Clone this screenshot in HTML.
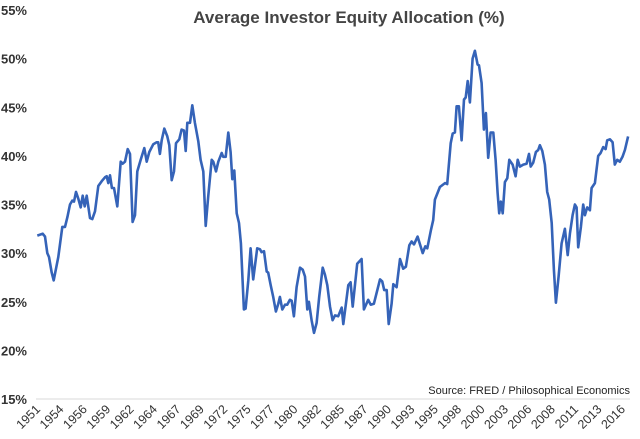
<!DOCTYPE html>
<html><head><meta charset="utf-8"><style>
html,body{margin:0;padding:0;background:#fff;}
svg{display:block;font-family:"Liberation Sans",Arial,sans-serif;}
</style></head><body>
<svg id="chart" width="640" height="439" viewBox="0 0 640 439">
<text x="349" y="23" text-anchor="middle" font-size="17" font-weight="bold" fill="#444">Average Investor Equity Allocation (%)</text>
<g id="yaxis"></g>
<g id="xaxis"></g>
<line x1="36" y1="399" x2="630" y2="399" stroke="#d8d8d8" stroke-width="1"/>
<text x="630" y="394" text-anchor="end" font-size="11" fill="#222">Source: FRED / Philosophical Economics</text>
<path id="line" fill="none" stroke="#3563b8" stroke-width="2.6" stroke-linejoin="round"/>
</svg>
<script>
const years = [1951.67,1952.27,1952.52,1952.78,1952.97,1953.27,1953.49,1954.0,1954.44,1954.74,1955.0,1955.29,1955.54,1955.73,1955.95,1956.21,1956.47,1956.69,1956.92,1957.14,1957.31,1957.5,1957.76,1958.05,1958.42,1958.8,1959.16,1959.35,1959.53,1959.71,1959.93,1960.16,1960.52,1960.9,1961.12,1961.37,1961.67,1961.93,1962.22,1962.48,1962.73,1963.11,1963.51,1963.77,1964.06,1964.5,1964.88,1965.05,1965.24,1965.43,1965.72,1966.05,1966.27,1966.54,1966.79,1967.01,1967.38,1967.64,1967.9,1968.09,1968.26,1968.56,1968.82,1969.11,1969.48,1969.74,1970.03,1970.3,1970.58,1970.96,1971.14,1971.44,1971.69,1972.07,1972.24,1972.51,1972.8,1973.06,1973.24,1973.46,1973.73,1973.98,1974.2,1974.53,1974.72,1975.01,1975.27,1975.56,1976.0,1976.3,1976.49,1976.75,1977.05,1977.22,1977.49,1977.77,1978.07,1978.33,1978.51,1978.77,1979.07,1979.32,1979.62,1979.81,1980.06,1980.36,1980.73,1981.03,1981.28,1981.54,1981.72,1982.02,1982.28,1982.57,1982.86,1983.24,1983.49,1983.75,1984.05,1984.34,1984.6,1984.96,1985.34,1985.52,1986.07,1986.33,1986.56,1987.06,1987.55,1987.8,1988.28,1988.55,1988.91,1989.58,1989.83,1990.05,1990.32,1990.54,1990.87,1991.05,1991.42,1991.79,1992.15,1992.45,1992.82,1993.08,1993.34,1993.74,1994.3,1994.59,1994.81,1995.22,1995.47,1995.66,1996.21,1996.77,1997.02,1997.4,1997.62,1997.87,1998.06,1998.31,1998.61,1998.87,1999.06,1999.28,1999.53,1999.83,2000.08,2000.38,2000.53,2000.82,2001.08,2001.3,2001.55,2001.82,2002.11,2002.37,2002.59,2002.77,2002.96,2003.15,2003.4,2003.66,2003.88,2004.25,2004.58,2004.81,2005.06,2005.43,2005.8,2006.06,2006.25,2006.53,2006.83,2007.08,2007.27,2007.53,2007.82,2008.08,2008.3,2008.57,2008.82,2009.04,2009.34,2009.67,2010.04,2010.34,2010.59,2010.89,2011.14,2011.33,2011.51,2011.81,2012.06,2012.25,2012.5,2012.8,2012.99,2013.35,2013.72,2013.98,2014.27,2014.54,2014.71,2015.01,2015.31,2015.56,2015.82,2016.11,2016.41,2016.67,2017.03];
const values = [31.8,32.0,31.7,30.0,29.6,28.0,27.2,29.6,32.7,32.7,33.7,35.0,35.4,35.3,36.3,35.6,34.7,35.9,34.8,35.9,34.8,33.6,33.5,34.3,36.9,37.4,37.8,37.9,37.2,38.0,36.7,36.7,34.8,39.4,39.2,39.4,40.7,40.2,33.2,33.9,38.4,39.6,40.8,39.4,40.4,41.2,41.4,41.4,40.2,41.6,42.8,42.0,41.1,37.5,38.4,41.3,41.7,42.7,42.6,40.5,43.4,43.4,45.2,43.4,41.5,39.6,38.4,32.8,35.8,39.6,39.4,38.4,39.4,40.3,39.9,39.9,42.4,40.4,37.6,38.5,34.1,33.1,31.0,24.2,24.3,27.2,30.5,27.3,30.5,30.4,30.1,30.2,28.1,28.0,26.7,25.5,24.0,24.8,25.5,24.2,24.7,24.7,25.2,25.1,23.5,26.5,28.5,28.3,27.6,24.2,25.0,23.1,21.8,22.8,25.5,28.5,27.8,26.7,24.5,23.1,23.6,23.5,24.4,22.7,26.7,27.0,24.5,28.9,29.4,24.2,25.2,24.7,24.8,27.3,27.1,26.2,26.2,22.7,24.8,26.8,26.5,29.4,28.4,28.6,30.8,31.2,30.9,31.7,30.0,30.7,30.5,32.4,33.4,35.5,36.8,37.2,37.1,41.3,42.3,42.4,45.1,45.1,41.6,45.8,46.0,47.7,45.5,50.0,50.8,49.4,49.3,47.5,42.7,44.4,39.8,42.4,42.4,39.6,36.2,34.1,35.3,34.1,37.3,37.7,39.6,39.1,37.9,39.6,38.9,39.1,39.2,40.2,38.9,39.3,40.4,40.6,41.1,40.5,39.1,36.3,35.5,33.1,28.3,24.9,27.6,31.0,32.5,29.8,32.0,33.9,35.0,34.7,30.6,32.7,35.0,33.9,34.7,34.4,36.7,37.2,40.0,40.3,40.9,40.7,41.6,41.7,41.4,39.1,39.6,39.4,39.9,40.6,42.0];
const yTicks = [15,20,25,30,35,40,45,50,55];
const xTickLabels = ["1951","1954","1956","1959","1962","1964","1967","1969","1972","1975","1977","1980","1982","1985","1987","1990","1993","1995","1998","2000","2003","2006","2008","2011","2013","2016"];
const xTickYears = [1951.75,1954.34,1956.93,1959.51,1962.10,1964.69,1967.28,1969.87,1972.45,1975.04,1977.63,1980.22,1982.81,1985.39,1987.98,1990.57,1993.16,1995.75,1998.33,2000.92,2003.51,2006.10,2008.69,2011.27,2013.86,2016.45];

const NS = "http://www.w3.org/2000/svg";
function xScale(yr){ return 38 + (yr - 1951.75) * 9.04; }
function yScale(v){ return 399 - (v - 15) * 9.725; }

const yAxis = document.getElementById('yaxis');
yTicks.forEach(t => {
  const tx = document.createElementNS(NS,'text');
  tx.setAttribute('x', 27);
  tx.setAttribute('y', yScale(t) + 5);
  tx.setAttribute('text-anchor','end');
  tx.setAttribute('font-size','13');
  tx.setAttribute('font-weight','bold');
  tx.setAttribute('fill','#333');
  tx.textContent = t + '%';
  
  
  yAxis.appendChild(tx);
});

const xAxis = document.getElementById('xaxis');
xTickLabels.forEach((lab, i) => {
  const x = xScale(xTickYears[i]) + 3;
  const tx = document.createElementNS(NS,'text');
  tx.setAttribute('x', x);
  tx.setAttribute('y', 410);
  tx.setAttribute('text-anchor','end');
  tx.setAttribute('font-size','12.5');
  tx.setAttribute('fill','#333');
  tx.setAttribute('transform','rotate(-45 ' + x + ' 410)');
  tx.textContent = lab;
  
  
  xAxis.appendChild(tx);
});

let d = '';
years.forEach((yr, i) => {
  d += (i ? 'L' : 'M') + xScale(yr).toFixed(1) + ' ' + yScale(values[i]).toFixed(1) + ' ';
});
document.getElementById('line').setAttribute('d', d);
</script>
</body></html>
